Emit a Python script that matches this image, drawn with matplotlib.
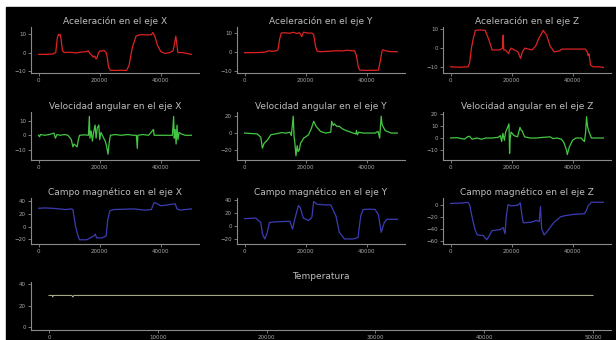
import matplotlib
matplotlib.use('Agg')
import matplotlib.pyplot as plt
from matplotlib.patches import Rectangle

# Data (sample index, value)
acc_x = [(0, -1), (2000, -1), (4500, -0.8), (5600, 0), (6100, 8), (6500, 10), (6700, 9.5),
         (7000, 10), (7300, 8), (7800, 1), (8400, 0), (10000, 0.2), (12300, -0.2), (14000, 0.3),
         (15700, 0.5), (16200, 1), (16800, -0.5), (17400, -1.5), (17900, -2.5), (18400, -2),
         (18800, -3.5), (19200, -2.5), (19600, 0), (20200, 1), (20700, 0.8), (21400, 1.2),
         (22100, 0), (22500, -3), (22900, -8), (23500, -9.7), (25000, -9.8), (26800, -9.7),
         (28800, -9.8), (29600, -7), (30700, 3), (31900, 9), (33000, 9.7), (34000, 9.8),
         (35500, 9.6), (36900, 9.8), (37400, 11), (38000, 9), (38900, 4), (40000, 0.5),
         (41400, -0.5), (43000, 0), (44000, 1), (44500, 5), (44900, 9), (45200, 5), (45600, 0),
         (47000, 0), (48500, -0.5), (50000, -1)]

acc_y = [(0, -0.5), (3000, -0.5), (6400, -0.3), (8000, 0.5), (9000, 0.2), (10300, 0.5),
         (10900, 1), (11500, 7), (12000, 9.8), (13000, 10), (14500, 9.7), (16000, 10.2),
         (17000, 9.6), (18000, 10), (18700, 8), (19300, 10.3), (20000, 10), (21000, 9.8),
         (22000, 9.8), (22600, 9), (23200, 3), (23700, 0.3), (25000, 0), (27000, 0.2),
         (30000, 0.5), (32000, 0.4), (33500, 0.8), (35000, 0.5), (36000, 0.5), (36600, -2),
         (37200, -8), (37700, -9.7), (40000, -9.8), (42000, -9.8), (43800, -9.7), (44400, -5),
         (45000, 0.5), (45300, 1), (46000, 0.5), (48000, 0), (50000, 0)]

acc_z = [(0, -10), (3000, -10.2), (5700, -10), (6200, -8), (6800, 0), (7400, 5), (8100, 9.5),
         (9500, 9.7), (11300, 9.5), (12400, 5), (13600, -1), (15800, -1), (16600, -0.5),
         (17000, 0), (17200, 7), (17400, -1), (17900, -1), (18500, -2), (19000, -3),
         (19400, -1), (19800, 0), (20900, -1), (22000, -2), (22900, -5.5), (23500, -2),
         (24300, 0), (25500, -0.5), (26600, -1), (27800, 1), (28800, 5), (30300, 9.5),
         (31400, 7), (32600, 1), (33900, -2), (35600, -1.5), (36500, -0.5), (37300, -0.5),
         (39600, -0.5), (43000, -0.5), (44100, -0.5), (44500, -1.5), (44700, -2), (45000, -4),
         (45300, -3), (45800, -9), (46600, -10), (48600, -10), (50000, -10.3)]

vel_x = [(0, 0), (300, -1), (600, 0.5), (2000, 0), (3500, 0.5), (5000, 1.5), (5500, -2),
         (6000, 0.5), (7000, 0), (8500, 0.5), (9600, 0), (10700, -3), (11200, -8), (11600, -6),
         (12100, -7), (12600, -8), (13000, -3), (13400, 0), (15000, 0.3), (16300, 0),
         (16600, 13), (16800, -2), (17200, 3), (17600, -4), (18000, 2), (18500, 7), (18800, -2),
         (19200, 5), (19700, 7), (20000, -3), (20400, 2), (21300, -2), (21800, -4), (22200, -7),
         (22700, -13), (23100, -5), (23500, 0), (25000, 0.5), (27000, 0), (29200, 0.5),
         (31000, 0), (32000, 0), (32300, -9), (32500, 0), (34000, 0.5), (36000, 0), (37600, 4),
         (37800, 0), (40000, 0), (43800, 0), (44200, 13), (44400, -2), (44700, 4), (45000, -6),
         (45300, 7), (45600, -3), (46000, 2), (46600, 1), (48000, 0), (50000, 0)]

vel_y = [(0, 0), (2000, -0.5), (4100, -1), (5300, -5), (5800, -18), (6400, -12), (7000, -10),
         (7500, -8), (8600, -2), (10900, -0.5), (12000, 0.5), (13600, 0), (14800, 1),
         (15300, -3), (15900, 20), (16200, -5), (16400, -10), (16800, -27), (17200, -15),
         (17500, -22), (17900, -20), (18300, -12), (18700, -10), (19300, -6), (19800, -5),
         (20900, -2), (21800, 5), (22600, 14), (23000, 11), (23400, 8), (24800, 2), (26500, 0),
         (28200, 1), (28500, 14), (29000, 9), (29300, 11), (30200, 8), (31000, 8), (32000, 5),
         (33200, 3), (35500, 0), (36400, -1), (36600, 3), (36900, -2), (37300, 1), (38800, 0),
         (42700, 0), (43700, 2), (44200, -6), (44700, 20), (45000, 10), (45300, 8), (46000, 3),
         (46600, 2), (48000, 0), (50000, 0)]

vel_z = [(0, 0), (2000, 0.3), (4500, -1), (5500, 1), (6200, 1.5), (7000, -1), (8500, 0),
         (10100, -1), (11500, 0), (13500, 0), (15500, 0.5), (16300, 2), (16700, -3),
         (17100, 4), (17600, -2), (18000, 5), (18500, 8), (19100, 12), (19300, -13),
         (19500, 0), (19800, 5), (20800, 2), (21900, 1), (22700, 9), (23000, 7), (23400, 6),
         (24200, 1), (26000, 0), (28100, 0), (30000, 0.5), (32600, 1), (33500, -0.5),
         (34800, 0), (36300, -1), (37100, -4), (37900, -10), (38200, -14), (38800, -8),
         (39900, -2), (41000, 0), (42700, 0), (43800, -3), (44200, 5), (44500, 18),
         (44800, 10), (45200, 6), (46100, 0), (48000, 0), (50000, 0)]

mag_x = [(0, 29), (2000, 29.5), (4500, 29), (6700, 28), (8900, 27), (10600, 28), (11200, 27),
         (12100, 0), (12900, -15), (13400, -21), (15700, -21), (17300, -17), (18000, -15),
         (18500, -12), (19000, -18), (20700, -18), (22100, -15), (22600, 10), (23300, 25),
         (24600, 27), (28000, 27.5), (31300, 28), (33000, 27), (34700, 26), (36900, 27),
         (37800, 38), (38400, 37), (40000, 33), (42000, 34), (43000, 35), (44700, 36),
         (45300, 28), (46400, 26), (48000, 27), (50000, 28)]

mag_y = [(0, 11), (2000, 11.5), (3600, 12), (4100, 10), (5300, 5), (5800, -12), (6600, -20),
         (7300, -12), (8100, 5), (9700, 6), (12000, 6.5), (14800, 7), (15700, -5), (16400, 10),
         (17600, 31), (18200, 28), (19200, 12), (20900, 8), (22000, 13), (22600, 37),
         (23700, 33), (26000, 32), (28200, 32), (29900, 15), (31000, -10), (32700, -20),
         (35500, -20), (37100, -18), (38000, 15), (38800, 25), (41000, 25.5), (42700, 25),
         (43800, 17), (44700, -10), (45700, 5), (46600, 10), (48000, 10), (50000, 10)]

mag_z = [(0, 2), (2500, 2.5), (4500, 3), (5600, 4), (6200, 0), (7000, -20), (7900, -40),
         (8700, -50), (10700, -51), (11800, -58), (12600, -52), (13500, -43), (15000, -42),
         (16300, -41), (17200, -38), (17800, -48), (18200, -20), (18800, 0), (19700, -2),
         (21900, -1), (22800, 3), (23400, -20), (23800, -30), (26400, -29), (28100, -26),
         (29000, -28), (29400, -3), (29800, -40), (30600, -50), (31500, -45), (33700, -30),
         (36000, -20), (37600, -18), (40400, -16), (43800, -15), (44400, -10), (45000, -2),
         (46100, 4), (48000, 4), (50000, 4)]

temp = [(0, 29.5), (300, 29.5), (350, 28), (400, 29.5), (2100, 29.5), (2200, 28),
        (2300, 29.5), (50000, 29.5)]

titles = ["Aceleración en el eje X", "Aceleración en el eje Y", "Aceleración en el eje Z",
          "Velocidad angular en el eje X", "Velocidad angular en el eje Y",
          "Velocidad angular en el eje Z",
          "Campo magnético en el eje X", "Campo magnético en el eje Y",
          "Campo magnético en el eje Z"]
series = [acc_x, acc_y, acc_z, vel_x, vel_y, vel_z, mag_x, mag_y, mag_z]
colors = ['#dd2222'] * 3 + ['#44c844'] * 3 + ['#3c3cb4'] * 3
yticks = [[-10, 0, 10], [-10, 0, 10], [-10, 0, 10],
          [-10, 0, 10], [-20, 0, 20], [-10, 0, 10, 20],
          [-20, 0, 20, 40], [-20, 0, 20, 40], [-60, -40, -20, 0]]
ylims = [(-11.2, 14), (-11.2, 13), (-13.3, 11.3),
         (-17, 16), (-32, 25), (-18.6, 22),
         (-27.7, 45.3), (-27.7, 42.5), (-65, 11)]

W, H = 616, 340
fig = plt.figure(figsize=(W / 100, H / 100), dpi=100)
fig.patch.set_facecolor('white')
fig.patches.append(Rectangle((6 / W, 0), 1, (H - 7) / H, transform=fig.transFigure,
                             color='black', zorder=-1))


def rect(l, t, r, b):
    return [l / W, 1 - b / H, (r - l) / W, (b - t) / H]


def style(ax):
    ax.set_facecolor('black')
    for s in ['top', 'right']:
        ax.spines[s].set_visible(False)
    for s in ['left', 'bottom']:
        ax.spines[s].set_color('#8a8a8a')
        ax.spines[s].set_linewidth(0.8)
    ax.tick_params(colors='#8a8a8a', labelcolor='#aaaaaa', labelsize=4,
                   length=2, width=0.6, pad=1.5)


rows = [(27, 73), (112, 160), (198, 244)]
cols = [(31, 199), (237, 405), (443, 611)]

for i in range(9):
    t0, b0 = rows[i // 3]
    l0, r0 = cols[i % 3]
    ax = fig.add_axes(rect(l0, t0, r0, b0))
    style(ax)
    xs, ys = zip(*series[i])
    ax.plot(xs, ys, color=colors[i], lw=0.9)
    ax.set_xlim(-2500, 52500)
    ax.set_ylim(*ylims[i])
    ax.set_xticks([0, 20000, 40000])
    ax.set_yticks(yticks[i])
    ax.set_title(titles[i], color='#bdbdbd', fontsize=6.5, pad=2.5)

ax = fig.add_axes(rect(31, 282, 611, 330))
style(ax)
xs, ys = zip(*temp)
ax.plot(xs, ys, color='#bcbc9c', lw=0.7)
ax.set_xlim(-1650, 51650)
ax.set_ylim(-2.8, 42)
ax.set_xticks([0, 10000, 20000, 30000, 40000, 50000])
ax.set_yticks([0, 20, 40])
ax.set_title("Temperatura", color='#bdbdbd', fontsize=6.5, pad=2.5)

fig.savefig('out.png', dpi=100, facecolor=fig.get_facecolor())
